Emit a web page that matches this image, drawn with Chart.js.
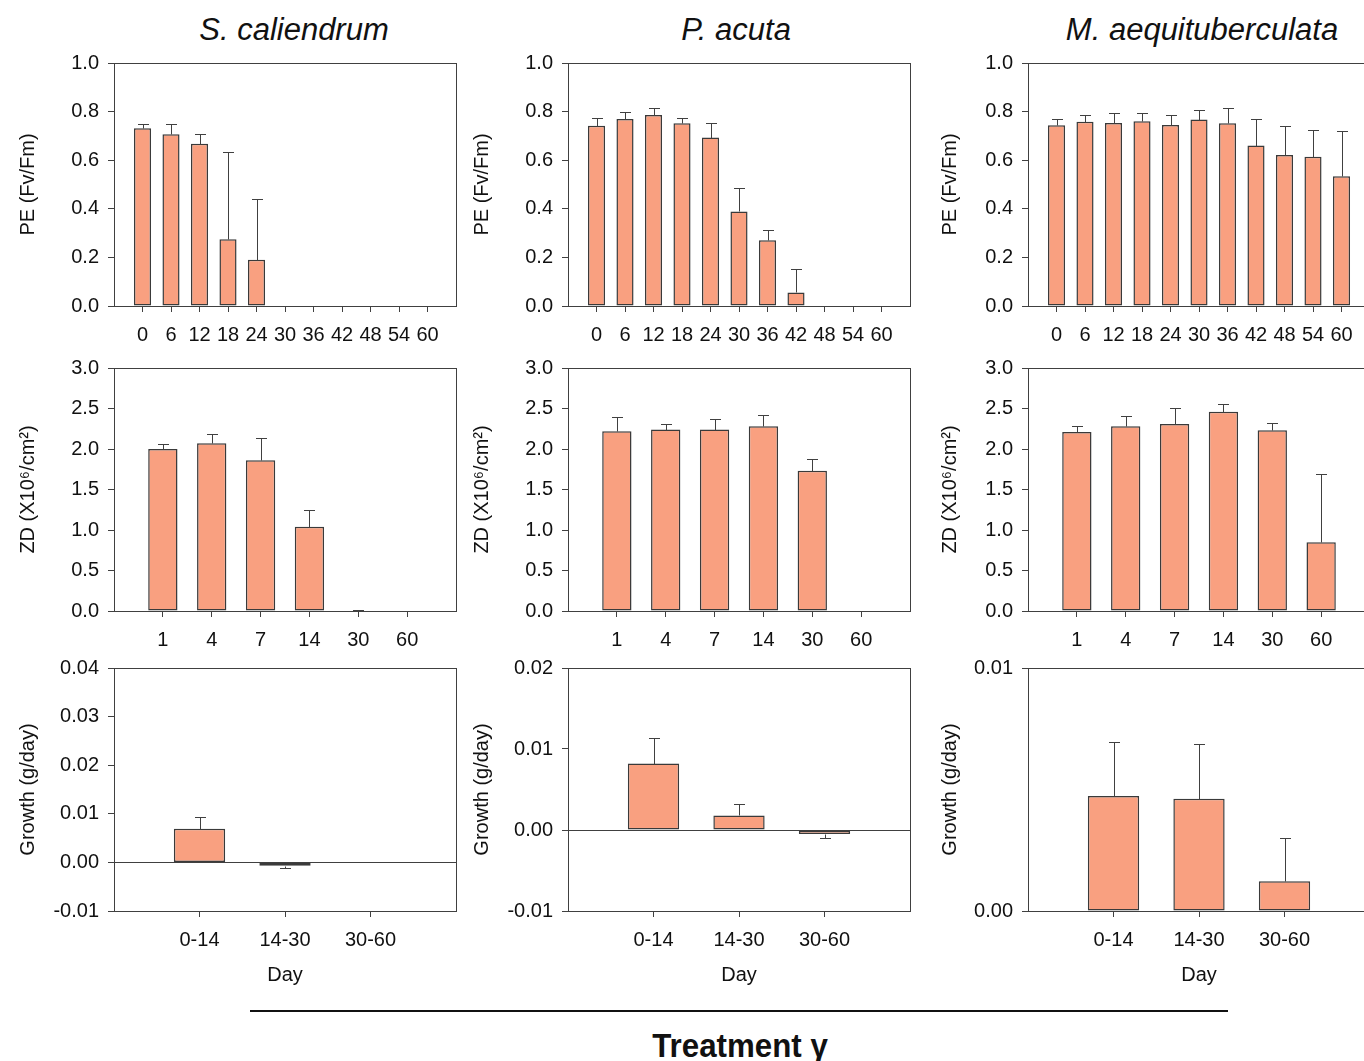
<!DOCTYPE html>
<html><head><meta charset="utf-8">
<script src="https://cdn.jsdelivr.net/npm/chart.js@4.4.1/dist/chart.umd.min.js"></script>
<style>
html,body{margin:0;padding:0;width:1364px;height:1061px;overflow:hidden;background:#fff;}
canvas{position:absolute;}
.ttl{position:absolute;top:14px;font-family:"Liberation Sans",Arial,sans-serif;font-style:italic;font-size:31px;line-height:32px;color:#111;transform:translateX(-50%);white-space:nowrap;}
#rule{position:absolute;left:250px;top:1010px;width:978px;height:2px;background:#111;}
#treat{position:absolute;left:740px;top:1045px;transform:translate(-50%,-50%) scaleX(0.92);font-family:"Liberation Sans",Arial,sans-serif;font-weight:bold;font-size:34px;color:#111;white-space:nowrap;}
</style></head><body>
<div class="ttl" style="left:294px">S. caliendrum</div>
<div class="ttl" style="left:736px">P. acuta</div>
<div class="ttl" style="left:1202px">M. aequituberculata</div>
<div id="rule"></div>
<div id="treat">Treatment γ</div>
<canvas id="c11"></canvas><canvas id="c12"></canvas><canvas id="c13"></canvas>
<canvas id="c21"></canvas><canvas id="c22"></canvas><canvas id="c23"></canvas>
<canvas id="c31"></canvas><canvas id="c32"></canvas><canvas id="c33"></canvas>
<script>
// ---------- data ----------
const peDays = ['0','6','12','18','24','30','36','42','48','54','60'];
const zdDays = ['1','4','7','14','30','60'];
const growthPeriods = ['0-14','14-30','30-60'];

const peMeanSc = [0.731,0.707,0.668,0.275,0.190,null,null,null,null,null,null];
const peErrSc  = [0.019,0.042,0.038,0.357,0.252,null,null,null,null,null,null];
const peMeanPa = [0.742,0.770,0.786,0.752,0.693,0.389,0.271,0.056,null,null,null];
const peErrPa  = [0.031,0.030,0.029,0.023,0.060,0.097,0.043,0.097,null,null,null];
const peMeanMa = [0.744,0.758,0.753,0.760,0.745,0.767,0.752,0.660,0.621,0.614,0.534];
const peErrMa  = [0.026,0.026,0.043,0.033,0.040,0.038,0.063,0.108,0.121,0.112,0.188];

const zdMeanSc = [2.00,2.07,1.86,1.04,0,null];
const zdErrSc  = [0.06,0.12,0.27,0.21,0.01,null];
const zdMeanPa = [2.22,2.24,2.24,2.28,1.73,0];
const zdErrPa  = [0.18,0.065,0.135,0.135,0.15,0.005];
const zdMeanMa = [2.21,2.28,2.31,2.46,2.23,0.85];
const zdErrMa  = [0.075,0.13,0.19,0.10,0.095,0.84];

const grMeanSc = [0.0069,-0.0007,null];
const grErrSc  = [0.0024,0.0005,null];
const grMeanPa = [0.0082,0.0018,-0.0005];
const grErrPa  = [0.0031,0.0014,0.0005];
const grMeanMa = [0.00473,0.00462,0.00122];
const grErrMa  = [0.00223,0.00226,0.00178];

// ---------- style ----------
const AXIS = '#404040', BAR = '#F9A080', TXT = '#111';
Chart.defaults.font.family = '"Liberation Sans", Arial, sans-serif';
Chart.defaults.font.size = 20;
Chart.defaults.color = TXT;
Chart.defaults.animation = false;

const frame = { id:'frame', afterDatasetsDraw(chart){
  const {ctx, chartArea:a} = chart; ctx.save();
  ctx.strokeStyle = AXIS; ctx.lineWidth = 1;
  ctx.strokeRect(Math.round(a.left)+0.5, Math.round(a.top)+0.5, Math.round(a.right-a.left), Math.round(a.bottom-a.top));
  ctx.restore(); } };

const errorBars = { id:'errorBars', afterDatasetsDraw(chart){
  const ds = chart.data.datasets[0], errs = ds.errors; if(!errs) return;
  const meta = chart.getDatasetMeta(0), ys = chart.scales.y, ctx = chart.ctx;
  ctx.save(); ctx.strokeStyle = AXIS; ctx.lineWidth = 1;
  meta.data.forEach((el,i)=>{
    const v = ds.data[i], e = errs[i]; if(v==null || e==null) return;
    const end = v < 0 ? v - e : v + e;
    const x = Math.round(el.x)+0.5, y0 = Math.round(ys.getPixelForValue(v))+0.5, y1 = Math.round(ys.getPixelForValue(end))+0.5;
    ctx.beginPath(); ctx.moveTo(x,y0); ctx.lineTo(x,y1);
    ctx.moveTo(x-5.5,y1); ctx.lineTo(x+5.5,y1); ctx.stroke();
  });
  ctx.restore(); } };

const pad = arr => ['', ...arr, ''];
const padData = arr => [null, ...arr, null];

// x-scale reserves (tick padding) on the right; EXTRA likewise on top
const YW = 114, PW = 342, PH = 243, TOPPAD = 15, RSPACE = 11, EXTRA = 6;

function makePanel(id, plotLeft, plotTop, cfg){
  const xH = cfg.xTitle ? 76 : 45;
  const cv = document.getElementById(id);
  cv.width = YW + PW + RSPACE; cv.height = TOPPAD + EXTRA + PH + xH;
  cv.style.left = (plotLeft - YW) + 'px'; cv.style.top = (plotTop - TOPPAD - EXTRA) + 'px';
  new Chart(cv, {
    type:'bar',
    data:{ labels: pad(cfg.labels), datasets:[{ data: padData(cfg.mean), errors: padData(cfg.err),
      backgroundColor: BAR, borderColor:'#3a3a3a', borderWidth:1.5, borderSkipped:false, inflateAmount:0,
      barPercentage:0.6, categoryPercentage:1.0 }] },
    options:{
      responsive:false, devicePixelRatio:1,
      layout:{ padding:{ left:0, right:0, top:TOPPAD, bottom:0 } },
      plugins:{ legend:{display:false}, tooltip:{enabled:false} },
      scales:{
        x:{ type:'category', offset:false,
          grid:{ display:true, offset:false, drawOnChartArea:false, drawTicks:true, tickLength:6,
                 tickColor: c => (c.tick && c.tick.label) ? AXIS : 'rgba(0,0,0,0)' },
          border:{ display:false },
          ticks:{ padding:11, autoSkip:false, maxRotation:0, color:TXT, font:{size:20} },
          title:{ display: !!cfg.xTitle, text: cfg.xTitle || '', padding:0, color:TXT, font:{size:20} },
          afterFit: s => { s.height = xH; } },
        y:{ min: cfg.min, max: cfg.max,
          ticks:{ stepSize: cfg.step, padding:9, color:TXT, font:{size:20},
                  callback: v => Number(v).toFixed(cfg.dec) },
          grid:{ display:true, drawOnChartArea: !!cfg.zeroLine, tickLength:6, tickColor: AXIS,
                 color: c => (c.tick && Math.abs(c.tick.value) < 1e-9) ? AXIS : 'rgba(0,0,0,0)' },
          border:{ display:false },
          title:{ display:true, text: cfg.yTitle, padding:{ top: cfg.tp, bottom:0 }, color:TXT, font:{size:20} },
          afterFit: s => { s.width = YW; } }
      }
    },
    plugins:[frame, errorBars]
  });
}

const COLS = [114, 568, 1028];
const ROWS = [63, 368, 668];
const TP = [16, 16, 24];

const peTitle = 'PE (Fv/Fm)', zdTitle = 'ZD (X10\u2076/cm\u00B2)', grTitle = 'Growth (g/day)';

makePanel('c11', COLS[0], ROWS[0], {labels:peDays, mean:peMeanSc, err:peErrSc, min:0, max:1, step:0.2, dec:1, yTitle:peTitle, tp:TP[0]});
makePanel('c12', COLS[1], ROWS[0], {labels:peDays, mean:peMeanPa, err:peErrPa, min:0, max:1, step:0.2, dec:1, yTitle:peTitle, tp:TP[1]});
makePanel('c13', COLS[2], ROWS[0], {labels:peDays, mean:peMeanMa, err:peErrMa, min:0, max:1, step:0.2, dec:1, yTitle:peTitle, tp:TP[2]});

makePanel('c21', COLS[0], ROWS[1], {labels:zdDays, mean:zdMeanSc, err:zdErrSc, min:0, max:3, step:0.5, dec:1, yTitle:zdTitle, tp:TP[0]});
makePanel('c22', COLS[1], ROWS[1], {labels:zdDays, mean:zdMeanPa, err:zdErrPa, min:0, max:3, step:0.5, dec:1, yTitle:zdTitle, tp:TP[1]});
makePanel('c23', COLS[2], ROWS[1], {labels:zdDays, mean:zdMeanMa, err:zdErrMa, min:0, max:3, step:0.5, dec:1, yTitle:zdTitle, tp:TP[2]});

makePanel('c31', COLS[0], ROWS[2], {labels:growthPeriods, mean:grMeanSc, err:grErrSc, min:-0.01, max:0.04, step:0.01, dec:2, yTitle:grTitle, tp:TP[0], xTitle:'Day', zeroLine:true});
makePanel('c32', COLS[1], ROWS[2], {labels:growthPeriods, mean:grMeanPa, err:grErrPa, min:-0.01, max:0.02, step:0.01, dec:2, yTitle:grTitle, tp:TP[1], xTitle:'Day', zeroLine:true});
makePanel('c33', COLS[2], ROWS[2], {labels:growthPeriods, mean:grMeanMa, err:grErrMa, min:0, max:0.01, step:0.01, dec:2, yTitle:grTitle, tp:TP[2], xTitle:'Day', zeroLine:true});
</script>
</body></html>
